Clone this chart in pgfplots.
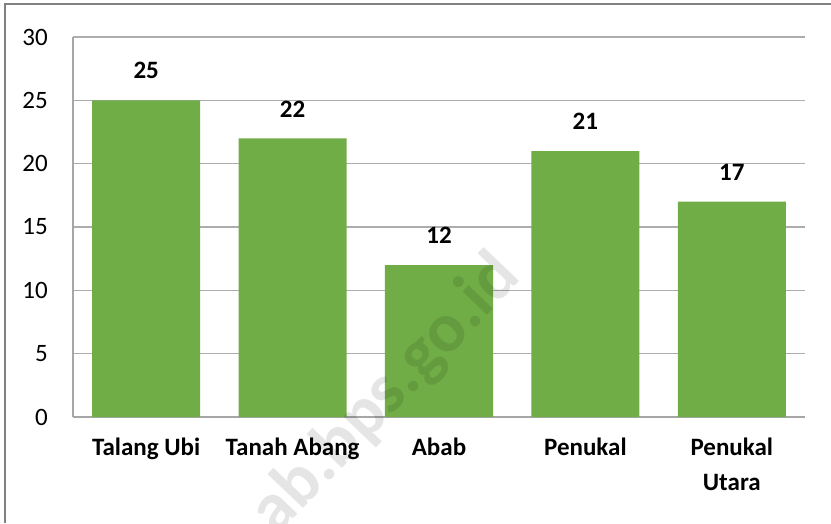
\documentclass[border=0pt]{standalone}
\usepackage{pgfplots}
\pgfplotsset{compat=1.18}
\usepackage{fontspec}
\setmainfont{Carlito}
\definecolor{bargreen}{HTML}{70AD47}
\begin{document}
\begin{tikzpicture}[x=1pt,y=1pt]
\useasboundingbox (0,0) rectangle (831,523);
\draw[black!50, line width=1.3pt] (5,0) -- (5,519) -- (831,519);
\begin{axis}[
  at={(73pt,106pt)}, anchor=south west,
  scale only axis, width=732pt, height=380pt,
  xmin=-0.5, xmax=4.5, ymin=0, ymax=30,
  ytick={0,5,...,30},
  xtick={0,1,2,3,4},
  xticklabels={Talang Ubi, Tanah Abang, Abab, Penukal, {Penukal\\Utara}},
  ybar, bar width=108pt,
  ymajorgrids,
  grid style={black!32, line width=1.1pt},
  axis x line*=bottom, axis y line*=left,
  axis line style={-, black!35, line width=1.1pt},
  major tick length=0pt,
  /pgf/number format/assume math mode=true,
  yticklabel style={font=\fontsize{25}{30}\selectfont, anchor=east, inner sep=0pt, xshift=-25pt},
  xticklabel style={font=\fontsize{25}{35}\selectfont\bfseries, anchor=north, inner sep=0pt, yshift=-21pt, align=center},
  nodes near coords,
  every node near coord/.append style={font=\fontsize{25}{30}\selectfont\bfseries, anchor=south, inner sep=0pt, yshift=21pt},
  clip=false,
]
\addplot[fill=bargreen, draw=none] coordinates {(0,25) (1,22) (2,12) (3,21) (4,17)};
\end{axis}
\begin{scope}
\clip (0,0) rectangle (831,523);
\node[rotate=46.3, text=black, text opacity=0.1, font=\fontsize{70}{74}\selectfont\bfseries] at (386,128) {ab.bps.go.id};
\end{scope}
\end{tikzpicture}
\end{document}
